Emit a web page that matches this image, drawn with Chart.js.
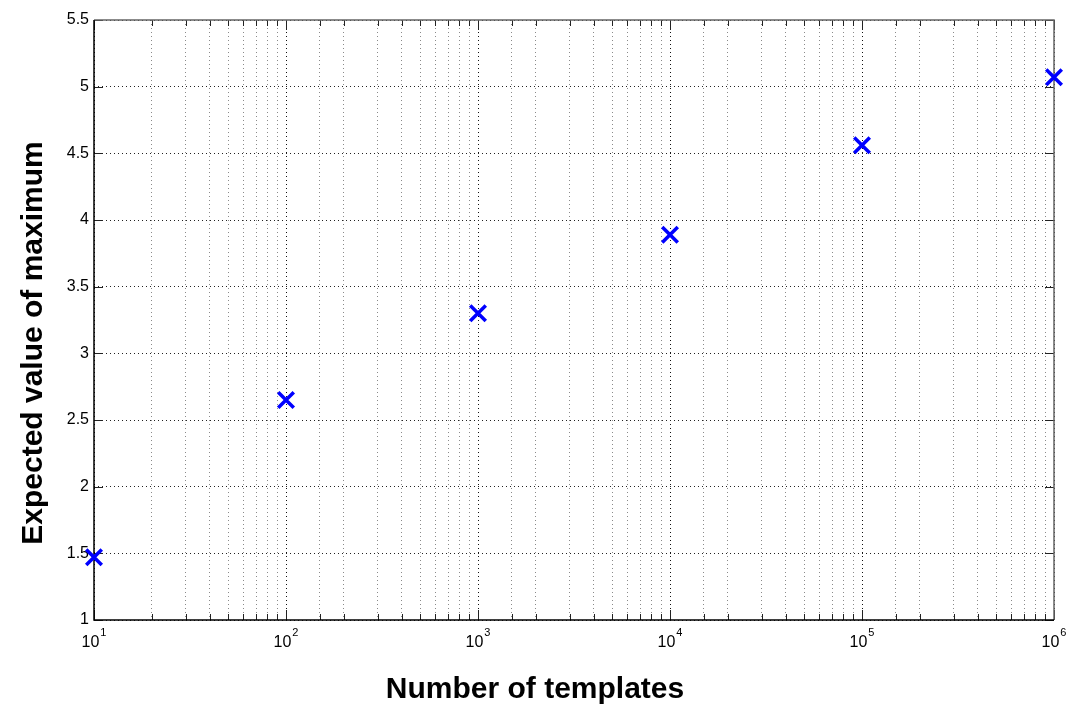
<!DOCTYPE html>
<html>
<head>
<meta charset="utf-8">
<script src="https://cdn.jsdelivr.net/npm/chart.js@4/dist/chart.umd.min.js"></script>
<style>
  html, body { margin: 0; padding: 0; background: #fff; }
  #wrap { width: 1075px; height: 705px; position: relative; }
</style>
</head>
<body>
<div id="wrap"><canvas id="chart"></canvas></div>
<script>
// Number of templates (log axis) and the expected maximum for each
const templateCounts = [10, 100, 1000, 10000, 100000, 1000000];
const expectedMax = [1.47, 2.65, 3.30, 3.89, 4.56, 5.07];

// Axis tick values and labels
const yTickValues = [1, 1.5, 2, 2.5, 3, 3.5, 4, 4.5, 5, 5.5];
const xTickBase = '10';
const xTickExponents = ['1', '2', '3', '4', '5', '6'];

// Axis titles
const xTitle = 'Number of templates';
const yTitle = 'Expected value of maximum';

const FONT = "'Liberation Sans', Arial, Helvetica, sans-serif";

const isDecade = v => Math.abs(Math.log10(v) - Math.round(Math.log10(v))) < 1e-9;

// Axes box with inward tick marks on all four sides
const boxPlugin = {
  id: 'axesBox',
  beforeDatasetsDraw(chart) {
    const { ctx, chartArea: a, scales } = chart;
    const xs = scales.x, ys = scales.y;
    ctx.save();
    ctx.lineWidth = 1;
    ctx.strokeStyle = '#222';
    ctx.beginPath();
    xs.ticks.forEach(t => {
      const px = Math.round(xs.getPixelForValue(t.value)) + 0.5;
      const len = isDecade(t.value) ? 10 : 6;
      ctx.moveTo(px, a.bottom); ctx.lineTo(px, a.bottom - len);
      ctx.moveTo(px, a.top); ctx.lineTo(px, a.top + len);
    });
    ys.ticks.forEach(t => {
      const py = Math.round(ys.getPixelForValue(t.value)) + 0.5;
      ctx.moveTo(a.left, py); ctx.lineTo(a.left + 9, py);
      ctx.moveTo(a.right, py); ctx.lineTo(a.right - 9, py);
    });
    ctx.stroke();
    // top and right edges (gray)
    ctx.strokeStyle = '#666';
    ctx.lineWidth = 1.5;
    ctx.beginPath();
    ctx.moveTo(a.left, a.top); ctx.lineTo(a.right, a.top); ctx.lineTo(a.right, a.bottom);
    ctx.stroke();
    // left and bottom edges (black)
    ctx.strokeStyle = '#000';
    ctx.beginPath();
    ctx.moveTo(a.left, a.top); ctx.lineTo(a.left, a.bottom); ctx.lineTo(a.right, a.bottom);
    ctx.stroke();
    ctx.restore();
  }
};

// Power-of-ten tick labels with raised exponents, plus the axis titles
const labelPlugin = {
  id: 'axisText',
  afterDraw(chart) {
    const { ctx, chartArea: a, scales } = chart;
    const xs = scales.x;
    ctx.save();
    ctx.fillStyle = '#000';
    ctx.textBaseline = 'alphabetic';
    templateCounts.forEach((n, i) => {
      const px = xs.getPixelForValue(n);
      ctx.font = `16px ${FONT}`;
      const wb = ctx.measureText(xTickBase).width;
      ctx.font = `11px ${FONT}`;
      const we = ctx.measureText(xTickExponents[i]).width;
      const left = px - (wb + 1 + we) / 2;
      ctx.font = `16px ${FONT}`;
      ctx.textAlign = 'left';
      ctx.fillText(xTickBase, left, a.bottom + 27);
      ctx.font = `11px ${FONT}`;
      ctx.fillText(xTickExponents[i], left + wb + 1, a.bottom + 16);
    });

    ctx.font = `bold 30px ${FONT}`;
    ctx.textAlign = 'center';
    ctx.fillText(xTitle, 535, 698);

    ctx.translate(42, 343);
    ctx.rotate(-Math.PI / 2);
    ctx.fillText(yTitle, 0, 0);
    ctx.restore();
  }
};

new Chart(document.getElementById('chart'), {
  type: 'scatter',
  data: {
    datasets: [{
      data: templateCounts.map((n, i) => ({ x: n, y: expectedMax[i] })),
      pointStyle: 'crossRot',
      pointRadius: 11,
      pointHoverRadius: 11,
      borderWidth: 3.5,
      pointBorderWidth: 3.5,
      borderColor: '#0000ff',
      backgroundColor: '#0000ff',
      showLine: false,
      clip: false
    }]
  },
  options: {
    responsive: true,
    maintainAspectRatio: false,
    animation: false,
    events: [],
    layout: { padding: { top: 20, right: 21, left: 0, bottom: 0 } },
    plugins: { legend: { display: false }, tooltip: { enabled: false } },
    scales: {
      x: {
        type: 'logarithmic',
        min: 10,
        max: 1000000,
        afterFit: s => { s.height = 85; },
        border: { display: false, dash: [1, 3] },
        grid: {
          drawTicks: false,
          lineWidth: 1,
          color: c => (c.tick && isDecade(c.tick.value)) ? '#111' : '#8a8a8a'
        },
        ticks: { display: false, autoSkip: false }
      },
      y: {
        type: 'linear',
        min: 1,
        max: 5.5,
        afterFit: s => { s.width = 94; },
        afterBuildTicks: s => { s.ticks = yTickValues.map(v => ({ value: v })); },
        border: { display: false, dash: [1, 3] },
        grid: { drawTicks: false, lineWidth: 1, color: '#222' },
        ticks: {
          padding: 5,
          color: '#000',
          font: { family: FONT, size: 16 },
          callback: v => String(v)
        }
      }
    }
  },
  plugins: [boxPlugin, labelPlugin]
});
</script>
</body>
</html>
